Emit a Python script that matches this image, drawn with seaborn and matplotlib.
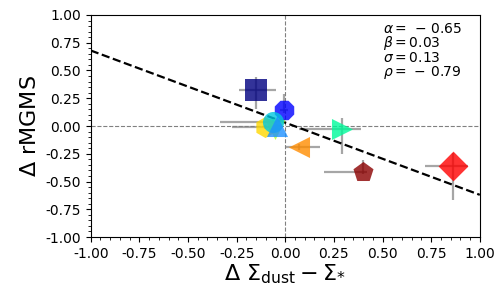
import matplotlib
matplotlib.use('Agg')
import matplotlib.pyplot as plt
from matplotlib.ticker import AutoMinorLocator, MultipleLocator, FormatStrFormatter
import numpy as np
import pandas as pd
import seaborn as sns

# galaxy offsets (x = delta Sigma_dust - Sigma_*, y = delta rMGMS)
labels = ['g1', 'g2', 'g3', 'g4', 'g5', 'g6', 'g7', 'g8', 'g9', 'g10']
dx = [-0.15, -0.005, -0.045, -0.065, -0.055, -0.105, 0.07, 0.29, 0.40, 0.86]
dy = [0.32, 0.14, 0.00, 0.04, -0.03, -0.01, -0.19, -0.03, -0.41, -0.36]
xerr_lo = [0.09, 0.02, 0.02, 0.27, 0.03, 0.17, 0.07, 0.22, 0.20, 0.14]
xerr_hi = [0.10, 0.02, 0.02, 0.02, 0.03, 0.03, 0.11, 0.10, 0.02, 0.08]
yerr_lo = [0.17, 0.02, 0.02, 0.02, 0.02, 0.02, 0.03, 0.22, 0.02, 0.31]
yerr_hi = [0.12, 0.15, 0.02, 0.02, 0.02, 0.02, 0.03, 0.10, 0.10, 0.12]
colors = ['navy', 'blue', 'dodgerblue', '#00c8e0', 'greenyellow',
          'gold', 'darkorange', 'mediumspringgreen', 'darkred', 'red']
marks = ['s', '8', '^', 'o', 'v', 'h', '<', '>', 'p', 'D']
zorders = [3, 4, 6, 5, 3, 3, 3, 3, 3, 3]

alpha_fit, beta_fit = -0.65, 0.03
sigma_fit, rho_fit = 0.13, -0.79


def fmt(v):
    # old-style mathtext spacing around the minus sign
    if v < 0:
        return r'=\,-\,%.2f' % abs(v)
    return r'=%.2f' % v


df = pd.DataFrame({'name': labels, 'x': dx, 'y': dy})

fig, ax = plt.subplots(figsize=(5.04, 2.88), dpi=100)

ax.axhline(0, color='gray', ls='--', lw=0.8, zorder=0)
ax.axvline(0, color='gray', ls='--', lw=0.8, zorder=0)

for i in range(len(df)):
    ax.errorbar(dx[i], dy[i], xerr=[[xerr_lo[i]], [xerr_hi[i]]],
                yerr=[[yerr_lo[i]], [yerr_hi[i]]], fmt='none',
                ecolor='gray', alpha=0.7, lw=1.6, zorder=1)
    sns.scatterplot(data=df.iloc[[i]], x='x', y='y', color=colors[i],
                    marker=marks[i], s=230, alpha=0.8, linewidth=0,
                    zorder=zorders[i], ax=ax, legend=False)

xx = np.array([-1, 1])
ax.plot(xx, alpha_fit * xx + beta_fit, 'k--', lw=1.6, zorder=2)

txt = '\n'.join([r'$\alpha %s$' % fmt(alpha_fit), r'$\beta %s$' % fmt(beta_fit),
                 r'$\sigma %s$' % fmt(sigma_fit), r'$\rho %s$' % fmt(rho_fit)])
ax.text(0.75, 0.97, txt, transform=ax.transAxes, va='top', ha='left',
        fontsize=10, linespacing=0.9)

ax.set_xlim(-1, 1)
ax.set_ylim(-1, 1)
ax.xaxis.set_major_locator(MultipleLocator(0.25))
ax.yaxis.set_major_locator(MultipleLocator(0.25))
ax.xaxis.set_major_formatter(FormatStrFormatter('%.2f'))
ax.yaxis.set_major_formatter(FormatStrFormatter('%.2f'))
ax.xaxis.set_minor_locator(AutoMinorLocator(5))
ax.yaxis.set_minor_locator(AutoMinorLocator(5))
ax.tick_params(labelsize=10)
ax.set_xlabel(r'$\Delta\ \Sigma_{\rm dust} - \Sigma_{*}$', fontsize=16, labelpad=1)
ax.set_ylabel(r'$\Delta$ rMGMS', fontsize=16)

fig.subplots_adjust(left=0.18, right=0.952, top=0.948, bottom=0.177)
fig.savefig('out.png', dpi=100)
